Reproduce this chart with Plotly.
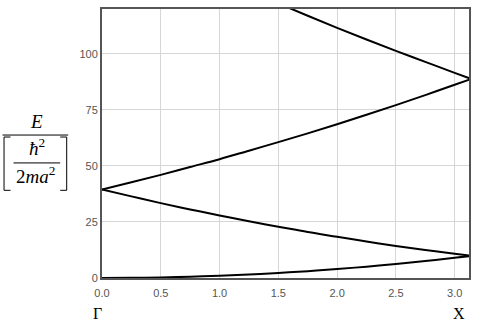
import plotly.graph_objects as go

# Wave vector samples (Gamma -> X) and band energies
k = [0.0, 0.25, 0.5, 0.75, 1.0, 1.25, 1.5, 1.75, 2.0, 2.25, 2.5, 2.75, 3.0, 3.14]
band1 = [0.0, 0.06, 0.25, 0.56, 1.0, 1.56, 2.25, 3.06, 4.0, 5.06, 6.25, 7.56, 9.0, 9.87]
band2 = [39.5, 36.4, 33.4, 30.6, 27.9, 25.3, 22.9, 20.5, 18.4, 16.3, 14.3, 12.5, 10.8, 9.87]
band3 = [39.5, 42.7, 46.0, 49.5, 53.0, 56.8, 60.6, 64.5, 68.6, 72.8, 77.1, 81.6, 86.2, 88.8]
k4 = [1.5, 1.75, 2.0, 2.25, 2.5, 2.75, 3.0, 3.14]
band4 = [122.5, 117.0, 111.6, 106.4, 101.3, 96.4, 91.5, 88.8]

x_ticks = [0.0, 0.5, 1.0, 1.5, 2.0, 2.5, 3.0]
x_tick_text = ["0.0", "0.5", "1.0", "1.5", "2.0", "2.5", "3.0"]
y_ticks = [0, 25, 50, 75, 100]
point_labels = ["Γ", "X"]

W, H = 478, 331
L, R, T, B = 102, 7, 8, 53
PW, PH = W - L - R, H - T - B


def px(x):
    return (x - L) / PW


def py(y):
    return (H - B - y) / PH


fig = go.Figure()
line = dict(color="black", width=2)
for xs, ys in [(k, band1), (k, band2), (k, band3), (k4, band4)]:
    fig.add_trace(go.Scatter(x=xs, y=ys, mode="lines", line=line,
                             line_shape="spline", showlegend=False,
                             hoverinfo="skip"))

serif = "Liberation Serif, Times New Roman, serif"
tickfont = dict(family="Liberation Sans, Arial, sans-serif", size=11, color="#555")

fig.update_xaxes(range=[0, 3.122], tickvals=x_ticks, ticktext=x_tick_text,
                 showgrid=True, gridcolor="#d6d6d6", gridwidth=1,
                 showline=True, linecolor="#555", linewidth=2, mirror=True,
                 zeroline=False, ticks="", tickfont=tickfont,
                 ticklabelstandoff=4)
fig.update_yaxes(range=[0, 120], tickvals=y_ticks,
                 showgrid=True, gridcolor="#d6d6d6", gridwidth=1,
                 showline=True, linecolor="#555", linewidth=2, mirror=True,
                 zeroline=False, ticks="", tickfont=tickfont)

annotations = []
for lbl, xp in zip(point_labels, [97, 461]):
    annotations.append(dict(x=px(xp), xref="paper", y=py(314), yref="paper",
                            text=lbl, showarrow=False,
                            font=dict(family=serif, size=16, color="black"),
                            xanchor="center", yanchor="middle"))

annotations += [
    dict(x=px(36), y=py(120.5), xref="paper", yref="paper", text="<i>E</i>",
         showarrow=False, font=dict(family=serif, size=19, color="black"),
         xanchor="center", yanchor="middle"),
    dict(x=px(37), y=py(147), xref="paper", yref="paper",
         text="<i>ħ</i><sup>2</sup>", showarrow=False,
         font=dict(family=serif, size=19, color="black"),
         xanchor="center", yanchor="middle"),
    dict(x=px(35), y=py(175), xref="paper", yref="paper",
         text="2<i>ma</i><sup>2</sup>", showarrow=False,
         font=dict(family=serif, size=19, color="black"),
         xanchor="center", yanchor="middle"),
]

shapes = []


def seg(x0, y0, x1, y1):
    shapes.append(dict(type="line", xref="paper", yref="paper",
                       x0=px(x0), y0=py(y0), x1=px(x1), y1=py(y1),
                       line=dict(color="black", width=1)))


seg(2, 134.5, 68, 134.5)
seg(13, 162.5, 60, 162.5)
# brackets
seg(3.5, 136.5, 3.5, 190)
seg(3.5, 136.5, 10, 136.5)
seg(3.5, 190, 10, 190)
seg(66.5, 136.5, 66.5, 190)
seg(60, 136.5, 66.5, 136.5)
seg(60, 190, 66.5, 190)

fig.update_layout(width=W, height=H, margin=dict(l=L, r=R, t=T, b=B),
                  paper_bgcolor="white", plot_bgcolor="white",
                  annotations=annotations, shapes=shapes)

fig.write_html("out.html")
